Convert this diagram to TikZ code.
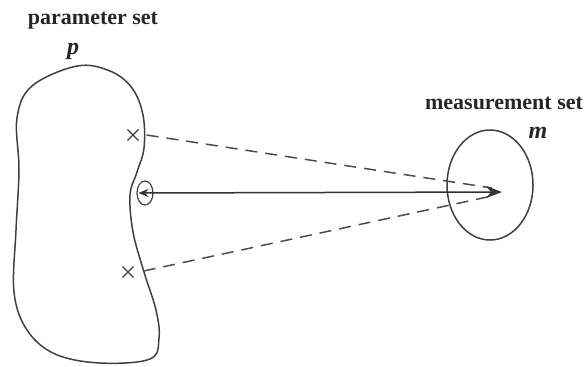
\documentclass[tikz,border=0pt]{standalone}
\usepackage{fontspec}
\setmainfont{Liberation Serif}
\usetikzlibrary{arrows.meta, shapes.misc, shapes.geometric}

\begin{document}
\begin{tikzpicture}[
    x=0.5pt, y=-0.5pt,
    every node/.style={font=\bfseries},
    setname/.style={font=\bfseries\fontsize{11}{13}\selectfont, text=black!85},
    setsym/.style={font=\bfseries\itshape\fontsize{12}{14}\selectfont, text=black!85},
    outline/.style={black!75, line width=0.75pt},
    mark x/.style={cross out, draw=black!75, line width=0.6pt, minimum size=5pt, inner sep=0pt},
    link/.style={black!70, line width=0.75pt, dash pattern=on 6pt off 4pt},
]
\useasboundingbox (0,0) rectangle (587,366);

% labels
\node[setname] (plabel) at (93,21) {parameter set};
\node[setsym] (psym) at (73,51) {p};
\node[setname] (mlabel) at (504,103) {measurement set};
\node[setsym] (msym) at (538,133) {m};

% the parameter set
\draw[outline] plot[smooth cycle, tension=0.6] coordinates {
    (77,66) (110,71) (132,88) (143,115) (144,148) (137,172) (130,195)
    (133,232) (144,272) (156,310) (159,338) (150,359) (100,363)
    (55,354) (27,330) (14,292) (16,230) (19,170) (17,118) (32,86)};

% the measurement set
\node[draw, outline, ellipse, minimum width=43pt, minimum height=55pt,
      inner sep=0pt] (mset) at (490,185) {};
\coordinate (tip) at (502,192);

% points in the parameter set
\node[mark x] (x1) at (133,135) {};
\node[mark x] (x2) at (128,272) {};
\node[draw, outline, line width=0.6pt, ellipse, minimum width=8pt,
      minimum height=12pt, inner sep=0pt] (p0) at (145,193) {};

\draw[link] (x1.east) ++(8,0) -- (492,188);
\draw[link] (x2.east) ++(10,-1) -- (492,196);
\draw[black!80, line width=0.75pt, {Stealth[length=5pt,width=4pt]}-{Stealth[length=8pt,width=6pt]}]
    (p0.west) ++(2,0) -- (tip);
\end{tikzpicture}
\end{document}
